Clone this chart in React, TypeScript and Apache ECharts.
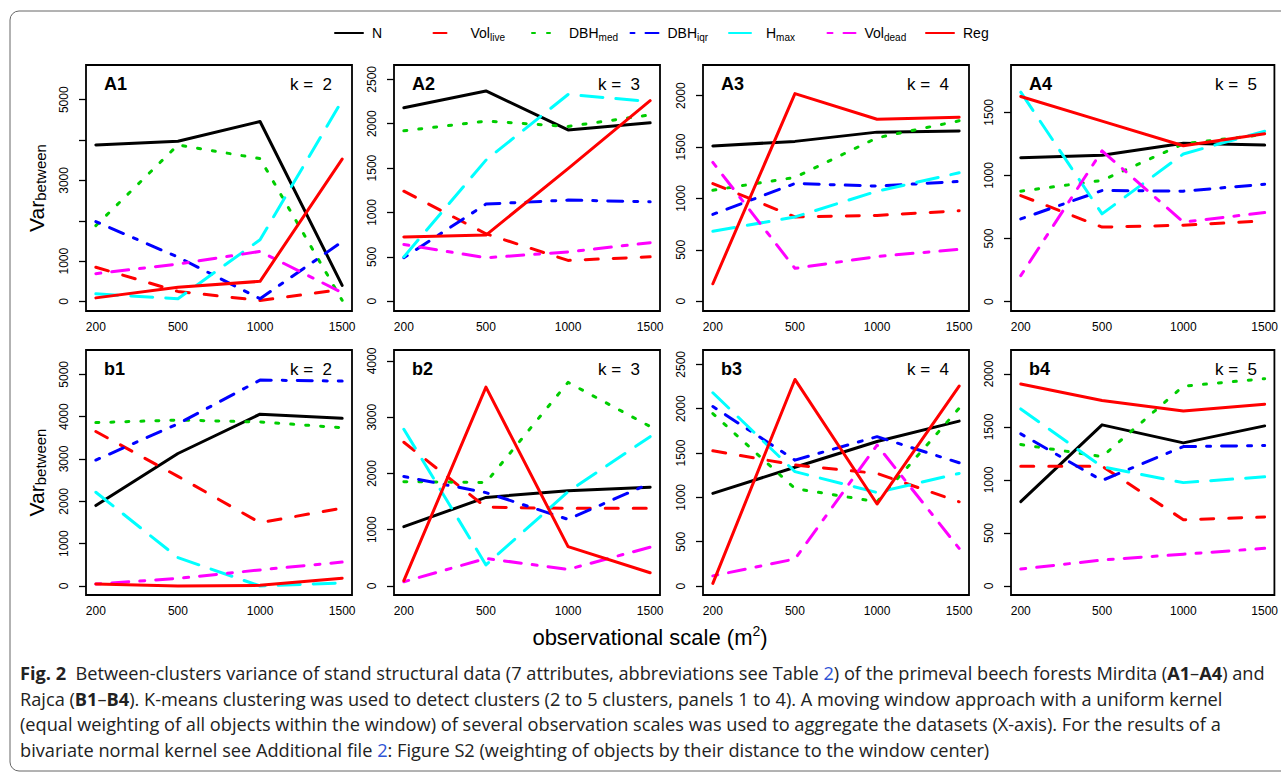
import React, { useEffect, useRef } from "react";
import * as echarts from "echarts";

// observational scales (x positions 1..4)
const scaleLabels = ["200", "500", "1000", "1500"];
const xPos = [1, 2, 3, 4];

const seriesNames = ["N", "Vol_live", "DBH_med", "DBH_iqr", "H_max", "Vol_dead", "Reg"];
const legendMain = ["N", "Vol", "DBH", "DBH", "H", "Vol", "Reg"];
const legendSub = ["", "live", "med", "iqr", "max", "dead", ""];

// rows follow seriesNames order: N, Vol_live, DBH_med, DBH_iqr, H_max, Vol_dead, Reg
const A1 = [
  [3880, 3970, 4460, 400],
  [850, 250, 25, 300],
  [1880, 3880, 3540, 30],
  [1980, 1100, 70, 1480],
  [190, 70, 1530, 4980],
  [690, 930, 1240, 220],
  [90, 355, 500, 3530],
];
const A2 = [
  [2180, 2370, 1930, 2010],
  [1240, 760, 460, 500],
  [1920, 2030, 1970, 2100],
  [490, 1095, 1140, 1120],
  [500, 1590, 2330, 2250],
  [640, 490, 555, 660],
  [725, 745, 1495, 2260],
];
const A3 = [
  [1510, 1555, 1645, 1655],
  [1145, 820, 835, 880],
  [1080, 1205, 1590, 1755],
  [845, 1145, 1120, 1165],
  [680, 820, 1070, 1250],
  [1350, 320, 435, 505],
  [170, 2020, 1770, 1790],
];
const A4 = [
  [1140, 1160, 1255, 1240],
  [840, 590, 605, 640],
  [875, 960, 1250, 1325],
  [655, 880, 875, 930],
  [1660, 695, 1170, 1350],
  [205, 1195, 630, 705],
  [1625, 1430, 1235, 1330],
];
const B1 = [
  [1900, 3130, 4060, 3960],
  [3650, 2590, 1495, 1840],
  [3860, 3920, 3875, 3740],
  [2975, 3830, 4865, 4840],
  [2215, 670, 0, 70],
  [45, 180, 380, 565],
  [45, 0, 15, 185],
];
const B2 = [
  [1055, 1575, 1695, 1755],
  [2555, 1400, 1380, 1380],
  [1855, 1840, 3620, 2835],
  [1945, 1660, 1185, 1825],
  [2785, 375, 1675, 2655],
  [75, 490, 295, 690],
  [95, 3535, 700, 235],
];
const B3 = [
  [1045, 1340, 1630, 1860],
  [1525, 1365, 1270, 950],
  [1945, 1100, 950, 2005],
  [2025, 1420, 1685, 1390],
  [2180, 1290, 1055, 1270],
  [115, 305, 1590, 425],
  [30, 2330, 925, 2255],
];
const B4 = [
  [795, 1520, 1350, 1510],
  [1130, 1130, 625, 650],
  [1335, 1220, 1885, 1955],
  [1435, 995, 1315, 1325],
  [1670, 1125, 975, 1030],
  [160, 245, 300, 355],
  [1905, 1750, 1650, 1715],
];

const panels = [A1, A2, A3, A4, B1, B2, B3, B4];
const panelLabels = ["A1", "A2", "A3", "A4", "b1", "b2", "b3", "b4"];
const kValues = [2, 3, 4, 5, 2, 3, 4, 5];

const yMin = [-235, -110, -95, -75, -213, -160, -101, -85];
const yMax = [5860, 2662, 2298, 1875, 5575, 4195, 2662, 2226];
const yTicks = [
  [0, 1000, 2000, 3000, 4000, 5000],
  [0, 500, 1000, 1500, 2000, 2500],
  [0, 500, 1000, 1500, 2000],
  [0, 500, 1000, 1500],
  [0, 1000, 2000, 3000, 4000, 5000],
  [0, 1000, 2000, 3000, 4000],
  [0, 500, 1000, 1500, 2000, 2500],
  [0, 500, 1000, 1500, 2000],
];
const yLabels = [
  [0, 1000, 3000, 5000],
  [0, 500, 1000, 1500, 2000, 2500],
  [0, 500, 1000, 1500, 2000],
  [0, 500, 1000, 1500],
  [0, 1000, 2000, 3000, 4000, 5000],
  [0, 1000, 2000, 3000, 4000],
  [0, 500, 1000, 1500, 2000, 2500],
  [0, 500, 1000, 1500, 2000],
];

const captionLines = [
  "{b|Fig. 2}  Between-clusters variance of stand structural data (7 attributes, abbreviations see Table {l|2}) of the primeval beech forests Mirdita ({b|A1}–{b|A4}) and",
  "Rajca ({b|B1}–{b|B4}). K-means clustering was used to detect clusters (2 to 5 clusters, panels 1 to 4). A moving window approach with a uniform kernel",
  "(equal weighting of all objects within the window) of several observation scales was used to aggregate the datasets (X-axis). For the results of a",
  "bivariate normal kernel see Additional file {l|2}: Figure S2 (weighting of objects by their distance to the window center)",
];

const seriesColors = ["#000000", "#FF0000", "#00CD00", "#0000FF", "#00FFFF", "#FF00FF", "#FF0000"];
const dashTypes: any[] = ["solid", [13, 15], [3, 12], [4, 11, 15, 11], [22, 13], [5, 11, 17, 11], "solid"];

const FONT = "'Liberation Sans', Arial, Helvetica, sans-serif";
const CAP_FONT = "'Open Sans', 'Noto Sans', sans-serif";
const CAP_SIZE = 18.2;

const colLefts = [86, 394, 703, 1011];
const rowTops = [65, 350];
const rowHeights = [246, 245];
const panelW = 266;

export default function App() {
  const ref = useRef<HTMLDivElement>(null);

  useEffect(() => {
    if (!ref.current) return;
    const chart = echarts.init(ref.current, undefined, { renderer: "svg" });

    const grids: any[] = [];
    const xAxes: any[] = [];
    const yAxes: any[] = [];
    const series: any[] = [];
    const graphics: any[] = [];

    panels.forEach((vals, p) => {
      const col = p % 4;
      const row = Math.floor(p / 4);
      const left = colLefts[col];
      const top = rowTops[row];
      grids.push({
        left,
        top,
        width: panelW,
        height: rowHeights[row],
        show: true,
        borderColor: "#000",
        borderWidth: 1.8,
        backgroundColor: "transparent",
        containLabel: false,
      });
      xAxes.push({
        type: "value",
        gridIndex: p,
        min: 0.88,
        max: 4.12,
        axisLine: { show: false },
        axisTick: { show: false },
        splitLine: { show: false },
        axisLabel: {
          customValues: xPos,
          formatter: (v: number) => scaleLabels[Math.round(v) - 1] ?? "",
          margin: 10,
          fontSize: 12,
          color: "#000",
          fontFamily: FONT,
        },
      });
      const yAx: any = {
        type: "value",
        gridIndex: p,
        min: yMin[p],
        max: yMax[p],
        axisLine: { show: false },
        splitLine: { show: false },
        axisTick: {
          show: true,
          customValues: yTicks[p],
          length: 7,
          lineStyle: { color: "#000", width: 1.3 },
        },
        axisLabel: {
          customValues: yLabels[p],
          formatter: (v: number) => String(v),
          rotate: 90,
          margin: 16,
          fontSize: 12,
          color: "#000",
          fontFamily: FONT,
        },
      };
      if (col === 0) {
        yAx.name = "{v|Var}{s|between}";
        yAx.nameLocation = "middle";
        yAx.nameRotate = 90;
        yAx.nameGap = 38;
        yAx.nameTextStyle = {
          rich: {
            v: { fontSize: 21, lineHeight: 24, color: "#000", fontFamily: FONT },
            s: { fontSize: 15, lineHeight: 15, verticalAlign: "bottom", color: "#000", fontFamily: FONT },
          },
        };
      }
      yAxes.push(yAx);

      vals.forEach((row, j) => {
        series.push({
          name: seriesNames[j],
          type: "line",
          xAxisIndex: p,
          yAxisIndex: p,
          data: row.map((v, k) => [xPos[k], v]),
          symbol: "none",
          showSymbol: false,
          silent: true,
          color: seriesColors[j],
          lineStyle: { color: seriesColors[j], width: 3, type: dashTypes[j], cap: "round", join: "round" },
        });
      });

      graphics.push({
        type: "text",
        x: left + 18,
        y: top + 19,
        style: {
          text: panelLabels[p],
          font: `bold 18px ${FONT}`,
          fill: "#000",
          align: "left",
          verticalAlign: "middle",
        },
      });
      graphics.push({
        type: "text",
        x: left + panelW - 20,
        y: top + 19,
        style: {
          text: `k =  ${kValues[p]}`,
          font: `17px ${FONT}`,
          fill: "#000",
          align: "right",
          verticalAlign: "middle",
        },
      });
    });

    // x axis title
    graphics.push({
      type: "text",
      x: 650,
      y: 637,
      style: {
        text: "{a|observational scale (m}{s|2}{a|)}",
        align: "center",
        verticalAlign: "middle",
        rich: {
          a: { fontSize: 22, lineHeight: 26, fontFamily: FONT, fill: "#000" },
          s: { fontSize: 14, lineHeight: 14, verticalAlign: "top", fontFamily: FONT, fill: "#000" },
        },
      },
    });

    // outer frame
    graphics.push({
      type: "rect",
      shape: { x: 10, y: 11, width: 1290, height: 760, r: 9 },
      style: { fill: "none", stroke: "#666", lineWidth: 1 },
      silent: true,
    });

    const capY = [673, 699, 724, 750];
    captionLines.forEach((line, i) => {
      graphics.push({
        type: "text",
        x: 20,
        y: capY[i],
        style: {
          text: line,
          align: "left",
          verticalAlign: "middle",
          font: `${CAP_SIZE}px ${CAP_FONT}`,
          fill: "#222",
          rich: {
            b: { fontWeight: "bold", fontSize: CAP_SIZE, fontFamily: CAP_FONT, fill: "#222" },
            l: { fontSize: CAP_SIZE, fontFamily: CAP_FONT, fill: "#2f54d6" },
          },
        },
      });
    });

    const legends = seriesNames.map((n, i) => ({
      data: [n],
      left: 329 + 98.5 * i,
      top: 21,
      itemWidth: 28,
      itemHeight: 14,
      selectedMode: false,
      itemStyle: { opacity: 0 },
      formatter: (name: string) => {
        const idx = seriesNames.indexOf(name);
        return legendSub[idx]
          ? `{m|${legendMain[idx]}}{s|${legendSub[idx]}}`
          : `{m|${legendMain[idx]}}`;
      },
      textStyle: {
        padding: [0, 0, 0, 4],
        rich: {
          m: { fontSize: 14, lineHeight: 18, color: "#000", fontFamily: FONT },
          s: { fontSize: 10, lineHeight: 10, verticalAlign: "bottom", color: "#000", fontFamily: FONT },
        },
      },
    }));

    chart.setOption({
      animation: false,
      backgroundColor: "#fff",
      textStyle: { fontFamily: FONT },
      legend: legends,
      grid: grids,
      xAxis: xAxes,
      yAxis: yAxes,
      series,
      graphic: graphics,
    });

    return () => chart.dispose();
  }, []);

  return (
    <div
      ref={ref}
      style={{ position: "fixed", left: 0, top: 0, width: 1281, height: 774, background: "#fff" }}
    />
  );
}
